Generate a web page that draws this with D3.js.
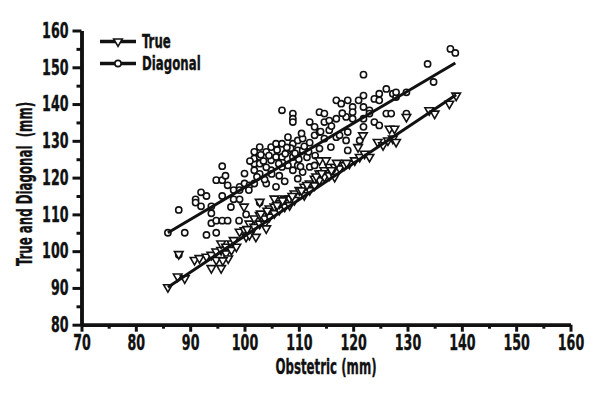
<!DOCTYPE html>
<html>
<head>
<meta charset="utf-8">
<script src="https://cdn.jsdelivr.net/npm/d3@7"></script>
<style>
  html, body { margin: 0; padding: 0; background: #fff; }
  svg { display: block; }
</style>
</head>
<body>
<svg id="chart" width="600" height="400"></svg>
<script>
// ---------- data ----------
const xTicks = [70, 80, 90, 100, 110, 120, 130, 140, 150, 160];
const yTicks = [80, 90, 100, 110, 120, 130, 140, 150, 160];
const seriesNames = ["True", "Diagonal"];

const diagX = [85.9,89.0,87.9,87.9,91.0,91.0,92.0,93.0,93.9,93.9,93.0,94.8,93.9,94.8,95.9,96.9,95.9,94.8,95.9,96.9,
  95.9,98.0,99.1,98.0,99.1,100.0,100.9,100.0,99.1,99.0,100.8,101.8,101.8,101.8,101.8,101.8,102.8,102.8,102.8,104.0,
  104.0,104.9,104.9,104.9,105.8,105.8,105.8,106.9,106.9,106.9,106.9,108.0,108.0,108.0,108.9,108.9,108.9,108.9,108.9,108.9,
  109.8,109.8,109.8,109.8,110.7,110.7,112.0,112.0,112.9,112.9,112.9,113.8,113.8,113.8,114.7,114.7,114.7,115.6,115.6,116.9,
  116.9,115.9,116.9,117.8,119.0,119.0,119.0,118.7,119.9,119.9,119.9,121.0,121.9,121.9,121.9,121.9,121.9,123.0,123.0,123.9,
  123.9,124.8,124.8,124.8,126.1,126.1,127.0,127.3,127.9,127.9,129.8,129.8,133.7,134.8,137.9,138.8,102.8,102.8,103.7,106.4,
  107.4,110.7,111.5,118.7,121.2,97.5,96.5,92.0,
  103.5,104.5,106.0,107.5,108.5,110.0,111.0,105.0,107.0,110.5,112.0,113.0,114.0,116.0,117.5,118.0,
  103.0,104.0,106.3,107.8,109.3,110.3,111.8,101.0,102.3,100.3];
const diagY = [105.0,105.0,111.2,99.0,114.1,113.2,112.2,115.0,110.3,112.2,104.4,105.0,107.6,108.3,108.3,108.3,123.1,119.3,119.3,117.9,
  115.0,114.1,114.1,116.6,117.5,118.4,117.9,121.1,116.6,108.3,116.6,118.4,122.0,123.8,125.2,127.0,128.3,125.6,123.8,127.0,
  118.4,128.3,124.7,122.0,129.2,125.6,117.5,129.2,125.6,122.9,138.3,131.0,127.4,123.3,137.4,136.0,135.1,129.2,125.6,122.0,
  130.1,127.4,123.3,119.7,130.6,127.4,135.1,122.9,133.8,131.5,123.3,137.8,132.4,127.9,137.4,135.1,130.6,135.5,132.9,136.0,
  131.0,128.3,141.0,140.1,141.0,132.4,127.4,136.5,139.2,137.8,136.0,141.0,148.0,142.3,139.2,136.0,133.8,138.3,137.4,141.4,
  135.1,142.8,141.0,134.2,144.1,137.4,137.4,142.8,141.9,143.2,143.2,137.4,150.9,146.0,155.0,153.9,113.2,121.0,119.5,120.5,
  119.0,121.5,125.5,130.1,130.1,112.0,120.5,116.0,
  124.5,126.0,127.5,126.5,128.0,125.0,128.5,121.0,124.0,132.0,129.5,126.0,132.5,134.0,131.5,137.5,
  126.2,122.8,123.8,128.2,126.6,123.0,127.0,124.5,120.2,110.0];

const trueX = [85.9,87.9,87.7,89.0,90.8,91.7,93.0,93.9,93.9,94.8,94.8,95.7,95.7,96.6,96.6,97.6,97.6,98.5,99.1,100.0,
  100.3,100.9,100.9,101.8,101.8,102.1,102.8,102.8,103.7,103.7,104.0,104.6,104.6,105.5,105.5,106.4,106.4,107.4,107.4,108.3,
  108.3,109.2,109.2,110.1,111.0,111.0,112.0,112.0,112.9,112.9,113.8,113.8,114.7,114.7,115.6,115.6,116.6,116.6,117.5,118.4,
  105.5,102.8,99.9,113.8,115.0,119.3,120.3,121.2,122.1,123.0,121.8,120.9,124.5,125.5,126.4,127.3,127.9,126.7,127.6,129.8,
  134.0,135.0,137.7,138.96,95.7,
  103.0,104.2,106.0,107.0,108.8,110.5,111.5,113.2,114.2,116.0,117.0,118.8,100.5,98.0,97.0,96.0];
const trueY = [90.2,99.2,93.1,92.6,97.6,98.1,98.5,99.0,95.4,99.9,97.6,100.3,102.1,101.2,99.4,102.1,100.3,101.2,105.3,105.7,
  103.9,107.5,104.4,108.9,106.6,103.9,109.8,107.5,108.9,107.5,106.2,111.6,109.4,112.1,110.3,111.2,113.0,112.1,114.3,114.3,
  112.5,115.7,113.9,116.6,115.2,117.5,118.4,116.6,119.7,117.9,121.1,119.3,122.0,120.2,122.9,120.6,122.9,120.2,122.5,123.4,
  114.3,113.4,112.1,124.7,124.7,123.8,124.7,125.6,126.5,125.6,131.5,128.3,129.7,128.8,130.1,130.6,129.7,133.3,133.3,136.5,
  138.3,137.4,140.1,142.3,95.4,
  110.2,111.0,112.5,113.8,115.0,116.5,118.0,120.3,121.2,122.0,124.0,124.0,106.0,103.0,98.0,97.5];

// linear fits: [intercept, slope]
const trueFit = [5.4, 0.987];
const diagFit = [30.0, 0.873];

// ---------- chart ----------
const svg = d3.select("#chart");
const FONT = "'DejaVu Sans Condensed', 'DejaVu Sans', sans-serif";
const FS = 21;
const KD = 0.67;   // horizontal condensing for digits
const KT = 0.625;  // horizontal condensing for words
const LFS = 19;    // legend font size
const LKT = 0.69;  // legend condensing
const INK = "#111";

const x = d3.scaleLinear().domain([70, 160]).range([81.5, 570.5]);
const y = d3.scaleLinear().domain([80, 160]).range([324.7, 30.5]);

const minorX = d3.range(75, 160, 10);
const minorY = d3.range(85, 160, 10);

function styleAxis(g) {
  g.attr("font-family", FONT).attr("font-size", FS).attr("font-weight", "bold");
  g.selectAll("path.domain").attr("stroke", INK).attr("stroke-width", 3.5);
  g.selectAll(".tick line").attr("stroke", INK).attr("stroke-width", 3);
  g.selectAll(".tick text").attr("fill", INK).attr("stroke", INK).attr("stroke-width", 0.35);
}

// minor ticks
svg.append("g").attr("transform", `translate(0,${y(80)})`)
  .call(d3.axisBottom(x).tickValues(minorX).tickSize(4).tickFormat("").tickSizeOuter(0))
  .call(styleAxis);
svg.append("g").attr("transform", `translate(${x(70)},0)`)
  .call(d3.axisLeft(y).tickValues(minorY).tickSize(5).tickFormat("").tickSizeOuter(0))
  .call(styleAxis);

// major axes
svg.append("g").attr("transform", `translate(0,${y(80)})`)
  .call(d3.axisBottom(x).tickValues(xTicks).tickSize(7).tickPadding(3).tickSizeOuter(0))
  .call(styleAxis)
  .call(g => g.selectAll(".tick text").attr("transform", `scale(${KD},1)`));
svg.append("g").attr("transform", `translate(${x(70)},0)`)
  .call(d3.axisLeft(y).tickValues(yTicks).tickSize(9).tickPadding(4).tickSizeOuter(0))
  .call(styleAxis)
  .call(g => g.selectAll(".tick text").attr("x", -13 / KD).attr("transform", `scale(${KD},1)`));

function label(px, py, rot, anchor, str, k) {
  return svg.append("text")
    .attr("transform", `translate(${px},${py}) rotate(${rot}) scale(${k},1)`)
    .attr("text-anchor", anchor)
    .attr("font-family", FONT).attr("font-size", FS).attr("font-weight", "bold")
    .attr("fill", INK).attr("stroke", INK).attr("stroke-width", 0.35)
    .style("white-space", "pre")
    .text(str);
}

// axis titles
label((x(70) + x(160)) / 2, 374, 0, "middle", "Obstetric (mm)", KT);
label(32, 184, -90, "middle", "True and Diagonal  (mm)", KT);

// markers
const triPath = d3.symbol().type(d3.symbolTriangle).size(32)();
function drawTriangles(g, xs, ys) {
  g.selectAll("path.tri").data(xs.map((v, i) => [v, ys[i]])).join("path")
    .attr("class", "tri")
    .attr("d", triPath)
    .attr("transform", d => `translate(${x(d[0])},${y(d[1])}) rotate(180)`)
    .attr("fill", "#fff").attr("stroke", INK).attr("stroke-width", 1.6);
}
function drawCircles(g, xs, ys) {
  g.selectAll("circle").data(xs.map((v, i) => [v, ys[i]])).join("circle")
    .attr("cx", d => x(d[0])).attr("cy", d => y(d[1])).attr("r", 3.1)
    .attr("fill", "#fff").attr("stroke", INK).attr("stroke-width", 1.6);
}

drawCircles(svg.append("g"), diagX, diagY);
drawTriangles(svg.append("g"), trueX, trueY);

// fit lines
function fitLine(xs, fit) {
  const x0 = d3.min(xs), x1 = d3.max(xs);
  svg.append("line")
    .attr("x1", x(x0)).attr("y1", y(fit[0] + fit[1] * x0))
    .attr("x2", x(x1)).attr("y2", y(fit[0] + fit[1] * x1))
    .attr("stroke", INK).attr("stroke-width", 3);
}
fitLine(diagX, diagFit);
fitLine(trueX, trueFit);

// legend
const legend = svg.append("g").attr("transform", "translate(100,41.5)");
seriesNames.forEach((name, i) => {
  const g = legend.append("g").attr("transform", `translate(0,${i * 22})`);
  g.append("line").attr("x1", 0).attr("x2", 36).attr("y1", 0).attr("y2", 0)
    .attr("stroke", INK).attr("stroke-width", 3.5);
  if (i === 0) {
    g.append("path").attr("d", triPath).attr("transform", "translate(18,0) rotate(180)")
      .attr("fill", "#fff").attr("stroke", INK).attr("stroke-width", 1.6);
  } else {
    g.append("circle").attr("cx", 18).attr("cy", 0).attr("r", 3.1)
      .attr("fill", "#fff").attr("stroke", INK).attr("stroke-width", 1.6);
  }
  g.append("text").attr("transform", `translate(42,0) scale(${LKT},1)`).attr("dy", "0.36em")
    .attr("font-family", FONT).attr("font-size", LFS).attr("font-weight", "bold")
    .attr("fill", INK).attr("stroke", INK).attr("stroke-width", 0.35)
    .text(name);
});
</script>
</body>
</html>
